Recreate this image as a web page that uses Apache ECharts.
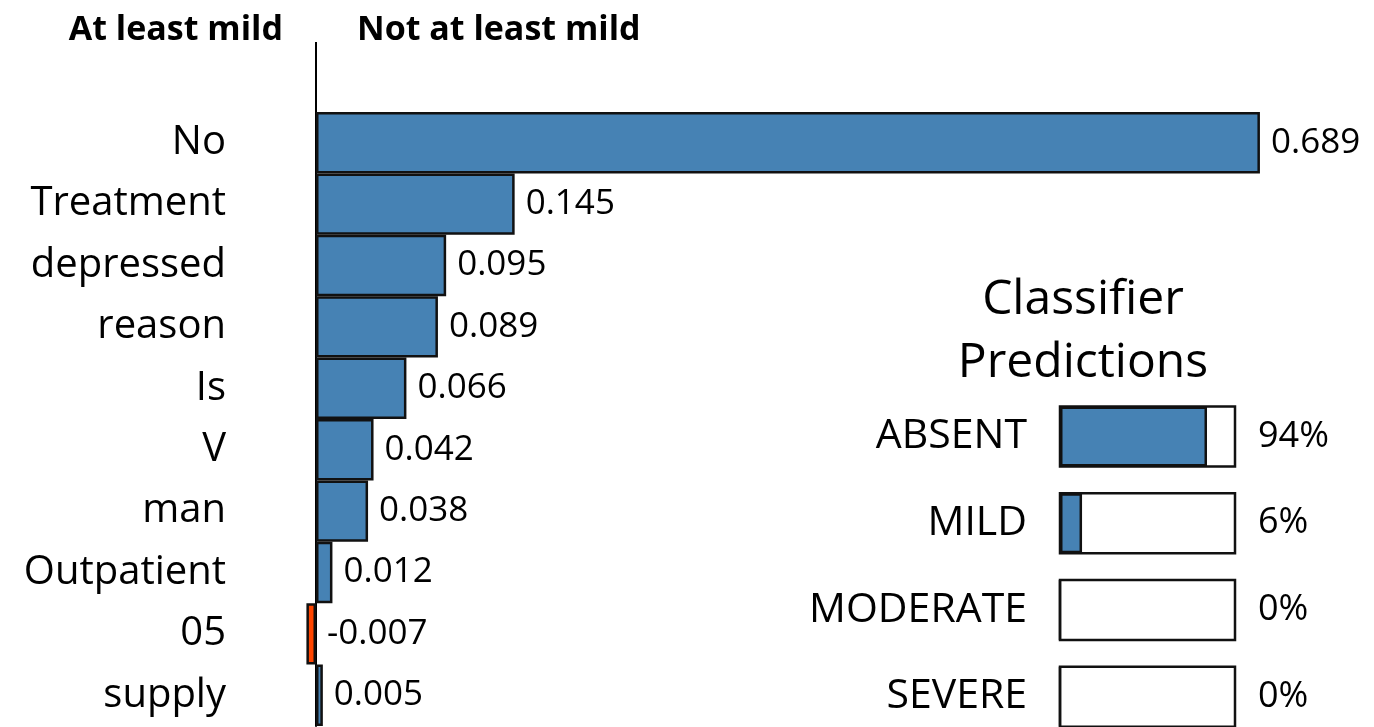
<!DOCTYPE html>
<html style="height: 100%">
<head>
    <meta charset="utf-8">
    <script type="text/javascript" src="https://cdn.jsdelivr.net/npm/echarts@6/dist/echarts.min.js"></script>
</head>
<body style="height: 100%; margin: 0; background: #fff">
    <div id="main" style="width: 1374px; height: 727px"></div>
    <script type="text/javascript">
        // word weights
        var words = ['No', 'Treatment', 'depressed', 'reason', 'Is', 'V', 'man', 'Outpatient', '05', 'supply'];
        var weights = [0.689, 0.145, 0.095, 0.089, 0.066, 0.042, 0.038, 0.012, -0.007, 0.005];

        // classifier predictions
        var classes = ['ABSENT', 'MILD', 'MODERATE', 'SEVERE'];
        var predPct = [94, 6, 0, 0];
        var predFill = [0.84, 0.126, 0, 0]; // filled length as drawn in the picture

        var FONT = '"Open Sans", "Noto Sans", sans-serif';
        var BLUE = '#4682b4';
        var RED = '#ff4500';

        var chartDom = document.getElementById('main');
        var myChart = echarts.init(chartDom);
        var option;

        option = {
            animation: false,
            backgroundColor: '#fff',
            textStyle: { fontFamily: FONT },
            graphic: [
                {
                    type: 'text', x: 283, y: 30,
                    style: { text: 'At least mild', fill: '#000', font: 'bold 34px ' + FONT, textAlign: 'right', textVerticalAlign: 'middle' }
                },
                {
                    type: 'text', x: 357, y: 30,
                    style: { text: 'Not at least mild', fill: '#000', font: 'bold 34px ' + FONT, textAlign: 'left', textVerticalAlign: 'middle' }
                },
                {
                    // axis line continues up to the headings
                    type: 'line',
                    shape: { x1: 316, y1: 42, x2: 316, y2: 113 },
                    style: { stroke: '#000', lineWidth: 2 }
                },
                {
                    type: 'text', x: 1083, y: 300,
                    style: { text: 'Classifier', fill: '#000', font: '48px ' + FONT, textAlign: 'center', textVerticalAlign: 'middle' }
                },
                {
                    type: 'text', x: 1083, y: 363,
                    style: { text: 'Predictions', fill: '#000', font: '48px ' + FONT, textAlign: 'center', textVerticalAlign: 'middle' }
                }
            ],
            grid: [
                { left: 316, top: 112, width: 959, height: 614, outerBoundsMode: 'none' },
                { left: 1060, top: 393, width: 175, height: 347, outerBoundsMode: 'none' }
            ],
            xAxis: [
                { gridIndex: 0, type: 'value', min: 0, max: 0.7, show: false },
                { gridIndex: 1, type: 'value', min: 0, max: 1, show: false }
            ],
            yAxis: [
                {
                    gridIndex: 0,
                    type: 'category',
                    data: words,
                    inverse: true,
                    axisLine: { show: true, lineStyle: { color: '#000', width: 2 } },
                    axisTick: { show: false },
                    axisLabel: { fontSize: 40, color: '#000', margin: 90, fontFamily: FONT }
                },
                {
                    gridIndex: 1,
                    type: 'category',
                    data: classes,
                    inverse: true,
                    axisLine: { show: false },
                    axisTick: { show: false },
                    axisLabel: { fontSize: 41, color: '#000', margin: 33, fontFamily: FONT }
                },
                {
                    gridIndex: 1,
                    type: 'category',
                    position: 'right',
                    data: predPct.map(function (p) { return p + '%'; }),
                    inverse: true,
                    axisLine: { show: false },
                    axisTick: { show: false },
                    axisLabel: { fontSize: 36, color: '#000', margin: 23, fontFamily: FONT }
                }
            ],
            series: [
                {
                    name: 'weights',
                    type: 'bar',
                    xAxisIndex: 0,
                    yAxisIndex: 0,
                    clip: false,
                    barCategoryGap: '0%',
                    data: weights.map(function (v) {
                        return { value: v, itemStyle: { color: v < 0 ? RED : BLUE } };
                    }),
                    itemStyle: { borderColor: '#111', borderWidth: 2.5 },
                    label: {
                        show: true,
                        position: 'right',
                        distance: 11,
                        fontSize: 35,
                        color: '#000',
                        fontFamily: FONT,
                        formatter: function (p) { return p.value.toFixed(3); }
                    }
                },
                {
                    name: 'predictions',
                    type: 'bar',
                    xAxisIndex: 1,
                    yAxisIndex: 1,
                    barWidth: 60,
                    data: predFill,
                    showBackground: true,
                    backgroundStyle: { color: '#fff', borderColor: '#111', borderWidth: 2.5 },
                    itemStyle: { color: BLUE, borderColor: '#111', borderWidth: 2.5 }
                }
            ]
        };

        option && myChart.setOption(option);
    </script>
</body>
</html>
